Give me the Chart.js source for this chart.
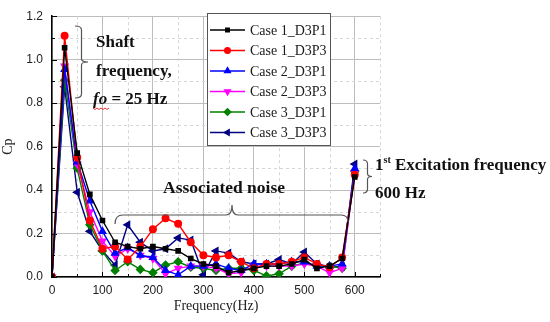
<!DOCTYPE html>
<html>
<head>
<meta charset="utf-8">
<script src="https://cdn.jsdelivr.net/npm/chart.js@4.4.0/dist/chart.umd.min.js"></script>
<style>
  html, body { margin: 0; padding: 0; background: #fff; }
  #wrap { width: 550px; height: 322px; }
</style>
</head>
<body>
<div id="wrap"><canvas id="cpChart" width="550" height="322"></canvas></div>
<script>
// Frequency (Hz) of each sample
const freq = [0, 25, 50, 75, 100, 125, 150, 175, 200, 225, 250, 275, 300,
              325, 350, 375, 400, 425, 450, 475, 500, 525, 550, 575, 600];

// Cp values per case
const case1P1 = [0, 1.055, 0.57, 0.38, 0.26, 0.16, 0.14, 0.13, 0.14, 0.13, 0.12, 0.085, 0.06,
                 0.05, 0.02, 0.03, 0.04, 0.05, 0.05, 0.06, 0.08, 0.04, 0.05, 0.085, 0.46];
const case1P3 = [0, 1.11, 0.55, 0.26, 0.13, 0.14, 0.08, 0.14, 0.22, 0.27, 0.245, 0.16, 0.10,
                 0.09, 0.10, 0.07, 0.04, 0.06, 0.06, 0.07, 0.09, 0.06, 0.045, 0.09, 0.47];
const case2P1 = [0, 0.955, 0.53, 0.35, 0.21, 0.11, 0.135, 0.10, 0.09, 0.03, 0.01, 0.05, 0.05,
                 0.06, 0.04, 0.03, 0.06, 0.06, 0.06, 0.07, 0.07, 0.05, 0.05, 0.06, 0.50];
const case2P3 = [0, 0.97, 0.52, 0.30, 0.165, 0.095, 0.13, 0.10, 0.085, 0.015, 0.04, 0.05, 0.05,
                 0.04, 0.015, 0.02, 0.05, 0.05, 0.05, 0.05, 0.06, 0.05, 0.02, 0.04, 0.48];
const case3P1 = [0, 0.905, 0.50, 0.24, 0.12, 0.03, 0.07, 0.035, 0.02, 0.055, 0.07, 0.045, 0.04,
                 0.03, 0.04, 0.04, 0.03, 0.005, 0.015, 0.05, 0.065, 0.05, 0.05, 0.04, 0.485];
const case3P3 = [0, 0.875, 0.39, 0.21, 0.12, 0.055, 0.24, 0.16, 0.12, 0.13, 0.18, 0.17, 0.01,
                 0.12, 0.11, 0.07, 0.06, 0.06, 0.08, 0.06, 0.115, 0.06, 0.047, 0.047, 0.52];

const seriesNames = ['Case 1_D3P1', 'Case 1_D3P3', 'Case 2_D3P1', 'Case 2_D3P3', 'Case 3_D3P1', 'Case 3_D3P3'];
const seriesValues = [case1P1, case1P3, case2P1, case2P3, case3P1, case3P3];
const xTicks = [0, 100, 200, 300, 400, 500, 600];
const yTicks = [0, 0.2, 0.4, 0.6, 0.8, 1.0, 1.2];

// Marker look for each series
const styles = [
    { color: '#000000', point: 'rect', rot: 0, r: 3 },
    { color: '#ff0000', point: 'circle', rot: 0, r: 3.3 },
    { color: '#0000ff', point: 'triangle', rot: 0, r: 3.8 },
    { color: '#ff00ff', point: 'triangle', rot: 180, r: 3.8 },
    { color: '#008000', point: 'rectRot', rot: 0, r: 3.8 },
    { color: '#000080', point: 'triangle', rot: 270, r: 3.8 }
];

const datasets = seriesNames.map(function(name, i) {
    return {
        label: name,
        data: freq.map(function(f, j) { return { x: f, y: seriesValues[i][j] }; }),
        borderColor: styles[i].color,
        backgroundColor: styles[i].color,
        pointStyle: styles[i].point,
        pointRotation: styles[i].rot,
        pointRadius: styles[i].r,
        borderWidth: 1.4,
        tension: 0
    };
});

const SERIF = '"Liberation Serif", "DejaVu Serif", serif';

// Minor dashed grid and small inward ticks
const minorGrid = {
    id: 'minorGrid',
    beforeDatasetsDraw(chart) {
        const ctx = chart.ctx, a = chart.chartArea;
        const xs = chart.scales.x, ys = chart.scales.y;
        ctx.save();
        ctx.strokeStyle = '#d6d6d6';
        ctx.lineWidth = 1;
        ctx.setLineDash([3, 3]);
        for (let f = 50; f <= 650; f += 100) {
            const px = Math.round(xs.getPixelForValue(f)) + 0.5;
            ctx.beginPath(); ctx.moveTo(px, a.top); ctx.lineTo(px, a.bottom); ctx.stroke();
        }
        for (let v = 0.1; v < 1.2; v += 0.2) {
            const py = Math.round(ys.getPixelForValue(v)) + 0.5;
            ctx.beginPath(); ctx.moveTo(a.left, py); ctx.lineTo(a.right, py); ctx.stroke();
        }
        ctx.setLineDash([]);
        ctx.strokeStyle = '#000';
        ctx.lineWidth = 1;
        for (let f = 0; f <= 650; f += 50) {
            const px = Math.round(xs.getPixelForValue(f)) + 0.5;
            const len = f % 100 === 0 ? 5 : 3;
            ctx.beginPath(); ctx.moveTo(px, a.bottom); ctx.lineTo(px, a.bottom - len); ctx.stroke();
        }
        for (let k = 0; k <= 12; k++) {
            const py = Math.round(ys.getPixelForValue(k / 10)) + 0.5;
            const len = k % 2 === 0 ? 5 : 3;
            ctx.beginPath(); ctx.moveTo(a.left, py); ctx.lineTo(a.left + len, py); ctx.stroke();
        }
        ctx.restore();
    }
};

function braceV(ctx, x, y1, y2, w) {
    // right-pointing curly brace
    const m = (y1 + y2) / 2;
    ctx.beginPath();
    ctx.moveTo(x, y1);
    ctx.quadraticCurveTo(x + w * 0.5, y1, x + w * 0.5, y1 + 4);
    ctx.lineTo(x + w * 0.5, m - 3);
    ctx.quadraticCurveTo(x + w * 0.5, m, x + w, m);
    ctx.quadraticCurveTo(x + w * 0.5, m, x + w * 0.5, m + 3);
    ctx.lineTo(x + w * 0.5, y2 - 4);
    ctx.quadraticCurveTo(x + w * 0.5, y2, x, y2);
    ctx.stroke();
}

// Legend box and text notes
const notes = {
    id: 'notes',
    afterDraw(chart) {
        const ctx = chart.ctx;
        ctx.save();

        // legend
        ctx.fillStyle = '#fff';
        ctx.fillRect(207, 13, 123, 132);
        ctx.strokeStyle = '#555';
        ctx.lineWidth = 1;
        ctx.strokeRect(207.5, 13.5, 123, 132);
        ctx.font = '14px ' + SERIF;
        ctx.textBaseline = 'middle';
        seriesNames.forEach(function(name, i) {
            const y = 30 + i * 20.5;
            ctx.strokeStyle = styles[i].color;
            ctx.fillStyle = styles[i].color;
            ctx.lineWidth = 1.4;
            ctx.beginPath(); ctx.moveTo(210, y); ctx.lineTo(245, y); ctx.stroke();
            Chart.helpers.drawPoint(ctx, {
                pointStyle: styles[i].point, rotation: styles[i].rot,
                radius: styles[i].r - 0.5, borderWidth: 1
            }, 227.5, y);
            ctx.fillStyle = '#1a1a1a';
            ctx.fillText(name, 250, y + 1);
        });

        // braces
        ctx.strokeStyle = '#555';
        ctx.lineWidth = 1.2;
        braceV(ctx, 75, 26, 98, 13);
        braceV(ctx, 363, 160, 193, 9);

        // horizontal brace over the noise band
        ctx.beginPath();
        ctx.moveTo(115, 224);
        ctx.quadraticCurveTo(115, 215, 123, 215);
        ctx.lineTo(226, 215);
        ctx.quadraticCurveTo(232, 215, 232, 205);
        ctx.quadraticCurveTo(232, 215, 238, 215);
        ctx.lineTo(341, 215);
        ctx.quadraticCurveTo(348, 215, 348, 222);
        ctx.stroke();

        // texts
        ctx.fillStyle = '#111';
        ctx.textBaseline = 'alphabetic';
        ctx.font = 'bold 17px ' + SERIF;
        ctx.fillText('Shaft', 96, 47);
        ctx.fillText('frequency,', 96, 76);
        ctx.font = 'italic bold 17px ' + SERIF;
        ctx.fillText('fo', 93, 104);
        const foW = ctx.measureText('fo').width;
        ctx.font = 'bold 17px ' + SERIF;
        ctx.fillText(' = 25 Hz', 93 + foW, 104);
        // spell-check squiggle under "fo"
        ctx.strokeStyle = '#e03030';
        ctx.lineWidth = 1;
        ctx.beginPath();
        for (let k = 0; k <= foW + 2; k += 2) {
            const yy = 108 + (k % 4 === 0 ? 0 : 1.5);
            if (k === 0) ctx.moveTo(93 + k, yy); else ctx.lineTo(93 + k, yy);
        }
        ctx.stroke();

        ctx.font = 'bold 17.5px ' + SERIF;
        ctx.fillText('Associated noise', 163, 193);

        ctx.font = 'bold 17px ' + SERIF;
        ctx.fillText('1', 375, 170);
        const oneW = ctx.measureText('1').width;
        ctx.font = 'bold 10px ' + SERIF;
        ctx.fillText('st', 375 + oneW, 163);
        const stW = ctx.measureText('st').width;
        ctx.font = 'bold 17px ' + SERIF;
        ctx.fillText(' Excitation frequency', 375 + oneW + stW, 170);
        ctx.fillText('600 Hz', 375, 198);

        ctx.restore();
    }
};

new Chart(document.getElementById('cpChart'), {
    type: 'line',
    data: { datasets: datasets },
    plugins: [minorGrid, notes],
    options: {
        responsive: false,
        animation: false,
        layout: { padding: { left: 0, right: 170, top: 12, bottom: 0 } },
        plugins: { legend: { display: false }, tooltip: { enabled: false } },
        scales: {
            x: {
                type: 'linear',
                min: 0,
                max: 650,
                afterBuildTicks: function(scale) {
                    scale.ticks = xTicks.map(function(v) { return { value: v }; });
                },
                afterFit: function(scale) { scale.height = 45; },
                grid: { color: '#bdbdbd', drawTicks: false },
                border: { color: '#000', width: 1.5 },
                ticks: {
                    padding: 6,
                    color: '#222',
                    font: { family: '"Liberation Sans", Arial, sans-serif', size: 12 },
                    callback: function(v) { return String(v); }
                },
                title: {
                    display: true,
                    text: 'Frequency(Hz)',
                    color: '#222',
                    font: { family: SERIF, size: 14 },
                    padding: { top: 0, bottom: 7 }
                }
            },
            y: {
                min: 0,
                max: 1.2,
                afterBuildTicks: function(scale) {
                    scale.ticks = yTicks.map(function(v) { return { value: v }; });
                },
                afterFit: function(scale) { scale.width = 52; },
                grid: { color: '#bdbdbd', drawTicks: false },
                border: { color: '#000', width: 1.5 },
                ticks: {
                    padding: 9,
                    color: '#222',
                    font: { family: '"Liberation Sans", Arial, sans-serif', size: 12 },
                    callback: function(v) { return v.toFixed(1); }
                },
                title: {
                    display: true,
                    text: 'Cp',
                    color: '#222',
                    font: { family: SERIF, size: 14 },
                    padding: { top: 0, bottom: 2 }
                }
            }
        }
    }
});
</script>
</body>
</html>
